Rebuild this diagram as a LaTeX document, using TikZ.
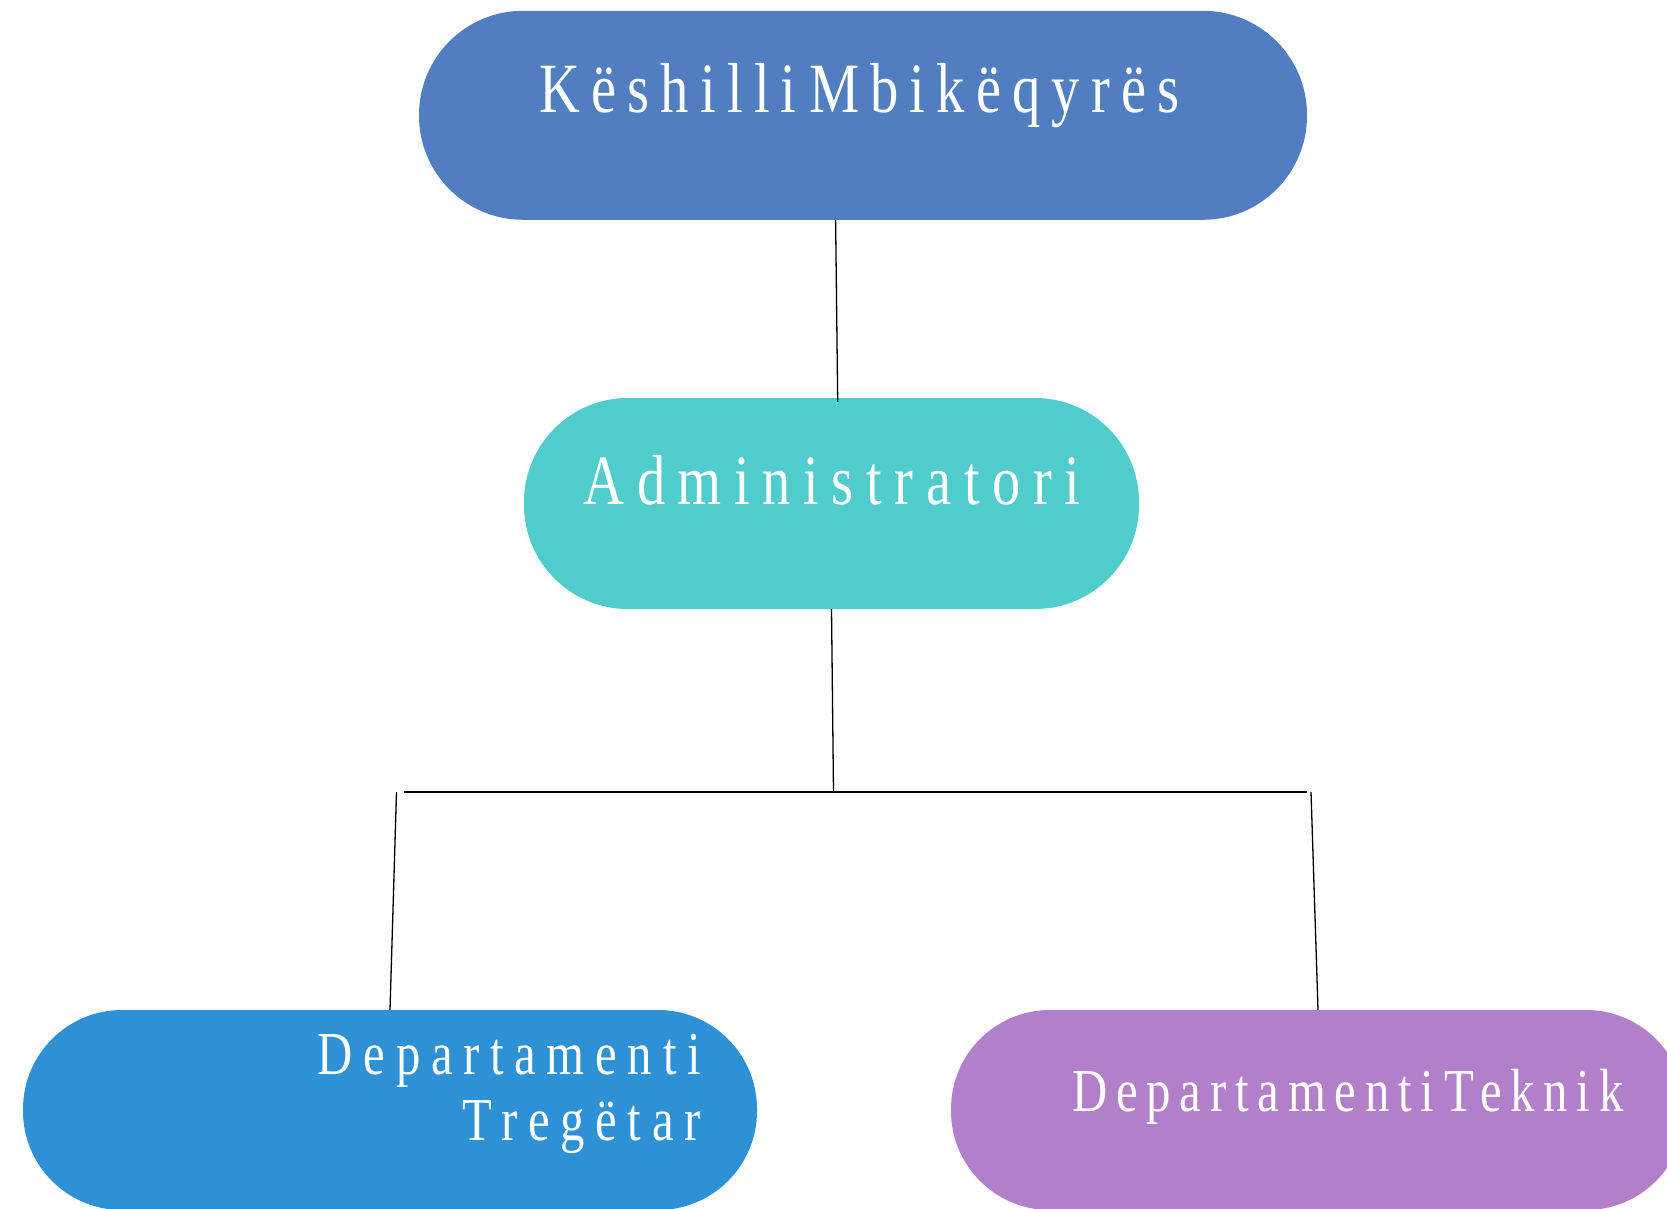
\documentclass[tikz,border=0pt]{standalone}
\usepackage{fontspec}
\setmainfont{Liberation Serif}
\newcommand\boxfont[3]{\fontspec{Liberation Serif}[FakeStretch=0.8,WordSpace=0.5,LetterSpace=#1]\fontsize{#2pt}{#3pt}\selectfont}
\definecolor{topc}{HTML}{517EC0}
\definecolor{admc}{HTML}{50CCCC}
\definecolor{leftc}{HTML}{2E91D5}
\definecolor{rightc}{HTML}{B280CA}
\tikzset{
  pill/.style={rectangle, draw=none, inner sep=0pt, rounded corners=104pt},
  pillsmall/.style={rectangle, draw=none, inner sep=0pt, rounded corners=99pt},
  txt/.style={text=white, inner sep=0pt},
  conn/.style={draw=black, line width=1.3pt},
}
\begin{document}
\begin{tikzpicture}[x=1pt,y=-1pt]
\useasboundingbox (0,0) rectangle (1667,1209);
% boxes
\node[pill, fill=topc, minimum width=888pt, minimum height=209pt] (ks) at (863,115.3) {};
\node[pill, fill=admc, minimum width=615pt, minimum height=211pt] (adm) at (831.5,503.5) {};
\node[pillsmall, fill=leftc, minimum width=734pt, minimum height=200pt] (dtr) at (390,1110) {};
\node[pillsmall, fill=rightc, minimum width=734pt, minimum height=200pt] (dtk) at (1318,1110) {};
% texts
\node[txt, anchor=base, font={\boxfont{15.7}{70.7}{76}}] (tks) at (859.5,113) {Këshilli Mbikëqyrës};
\node[txt, anchor=base, font={\boxfont{17.8}{70.7}{76}}] (tadm) at (832,504) {Administratori};
\node[txt, anchor=base east, align=right, font={\boxfont{17.5}{61}{66}}] (tdtr) at (701,1140) {Departamenti\\Tregëtar};
\node[txt, anchor=base west, font={\boxfont{14.4}{61}{66}}] (tdtk) at (1072,1111) {Departamenti Teknik};
% junction coordinates
\coordinate (j) at (833.5,792);
\coordinate (hl) at (404,792);
\coordinate (hr) at (1307,792);
\coordinate (vl) at (396.5,792);
\coordinate (vr) at (1311,792);
% connectors
\draw[conn] ([xshift=-27.4pt]ks.south) -- ([shift={(6.2,4)}]adm.north);
\draw[conn] (adm.south) -- (j);
\draw[conn, line width=2pt] (hl) -- (hr);
\draw[conn] (vl) -- (dtr.north);
\draw[conn] (vr) -- (dtk.north);
\end{tikzpicture}
\end{document}
